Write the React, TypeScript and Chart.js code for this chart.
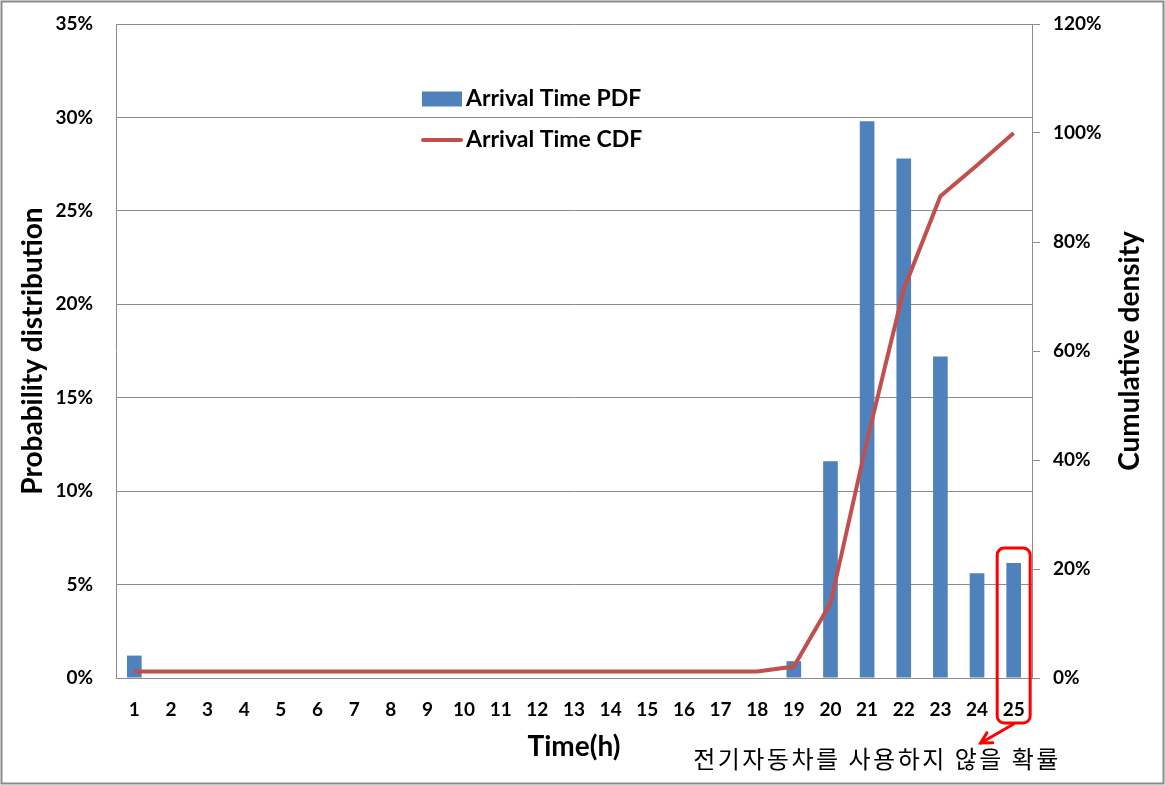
import React, { useEffect, useRef } from 'react';
import { Chart, registerables } from 'chart.js';

Chart.register(...registerables);

const hours = ['1', '2', '3', '4', '5', '6', '7', '8', '9', '10', '11', '12', '13', '14', '15', '16', '17', '18', '19', '20', '21', '22', '23', '24', '25'];
const pdfValues = [1.2, 0, 0, 0, 0, 0, 0, 0, 0, 0, 0, 0, 0, 0, 0, 0, 0, 0, 0.9, 11.6, 29.8, 27.8, 17.2, 5.6, 6.15];
const cdfValues = [1.2, 1.2, 1.2, 1.2, 1.2, 1.2, 1.2, 1.2, 1.2, 1.2, 1.2, 1.2, 1.2, 1.2, 1.2, 1.2, 1.2, 1.2, 2.1, 13.7, 43.6, 71.3, 88.4, 94.1, 100];
const pdfLabel = 'Arrival Time PDF';
const cdfLabel = 'Arrival Time CDF';
const xTitle = 'Time(h)';
const leftTitle = 'Probability distribution';
const rightTitle = 'Cumulative density';
const noteText = '전기자동차를 사용하지 않을 확률';

const FONT = 'Lato, "Open Sans", "DejaVu Sans", sans-serif';
const GRID = '#8c8c8c';
const BLUE = '#4F81BD';
const RED = '#C0504D';

const decorPlugin = {
  id: 'decor',
  afterDraw(chart: any) {
    const { ctx, chartArea } = chart;
    const xs = chart.scales.x;
    const ys = chart.scales.y;
    ctx.save();
    // outer frame
    ctx.strokeStyle = '#8a8a8a';
    ctx.lineWidth = 2;
    ctx.strokeRect(1.5, 1.5, chart.width - 3, chart.height - 3);

    // legend
    const lx = chartArea.left + 306;
    const ly1 = chartArea.top + 75;
    const ly2 = chartArea.top + 116;
    ctx.fillStyle = BLUE;
    ctx.fillRect(lx, ly1 - 7.5, 40, 15);
    ctx.strokeStyle = RED;
    ctx.lineWidth = 4;
    ctx.lineCap = 'round';
    ctx.beginPath();
    ctx.moveTo(lx + 1, ly2);
    ctx.lineTo(lx + 39, ly2);
    ctx.stroke();
    ctx.fillStyle = '#000';
    ctx.font = `bold 23px ${FONT}`;
    ctx.textAlign = 'left';
    ctx.textBaseline = 'middle';
    ctx.fillText(pdfLabel, lx + 44, ly1);
    ctx.fillText(cdfLabel, lx + 44, ly2);

    // axis titles
    const midY = (chartArea.top + chartArea.bottom) / 2;
    ctx.font = `bold 28px ${FONT}`;
    ctx.textAlign = 'center';
    ctx.textBaseline = 'middle';
    ctx.save();
    ctx.translate(33, midY);
    ctx.rotate(-Math.PI / 2);
    ctx.fillText(leftTitle, 0, 0);
    ctx.restore();
    ctx.save();
    ctx.translate(1130, midY);
    ctx.rotate(-Math.PI / 2);
    ctx.fillText(rightTitle, 0, 0);
    ctx.restore();
    ctx.fillText(xTitle, (chartArea.left + chartArea.right) / 2, 747);

    // annotation box around last category
    const last = hours.length - 1;
    const cx = xs.getPixelForValue(last);
    const top = ys.getPixelForValue(pdfValues[last]) - 15;
    const bottom = chartArea.bottom + 45;
    ctx.strokeStyle = '#FF0000';
    ctx.lineWidth = 3;
    ctx.beginPath();
    (ctx as any).roundRect(cx - 16.5, top, 33, bottom - top, 7);
    ctx.stroke();
    // arrow
    const sx = cx, sy = bottom + 1;
    const ex = cx - 33, ey = bottom + 20;
    ctx.beginPath();
    ctx.moveTo(sx, sy);
    ctx.lineTo(ex, ey);
    ctx.stroke();
    const ang = Math.atan2(ey - sy, ex - sx);
    const hl = 12;
    ctx.beginPath();
    ctx.moveTo(ex - hl * Math.cos(ang - 0.5), ey - hl * Math.sin(ang - 0.5));
    ctx.lineTo(ex, ey);
    ctx.lineTo(ex - hl * Math.cos(ang + 0.5), ey - hl * Math.sin(ang + 0.5));
    ctx.stroke();

    // note text
    ctx.fillStyle = '#000';
    ctx.font = `24px "Noto Sans CJK KR", sans-serif`;
    (ctx as any).letterSpacing = '2.5px';
    ctx.textAlign = 'center';
    ctx.textBaseline = 'middle';
    ctx.fillText(noteText, 877, 759);
    (ctx as any).letterSpacing = '0px';
    ctx.restore();
  },
};

export default function App() {
  const ref = useRef<HTMLCanvasElement | null>(null);
  useEffect(() => {
    document.body.style.margin = '0';
    const canvas = ref.current;
    if (!canvas) return;
    const tickFont = { family: FONT, size: 19, weight: 'bold' as const };
    const chart = new Chart(canvas, {
      type: 'bar',
      data: {
        labels: hours,
        datasets: [
          {
            type: 'line',
            label: cdfLabel,
            data: cdfValues,
            yAxisID: 'y1',
            borderColor: RED,
            backgroundColor: RED,
            borderWidth: 4,
            pointRadius: 0,
            tension: 0,
            order: 1,
          } as any,
          {
            type: 'bar',
            label: pdfLabel,
            data: pdfValues,
            yAxisID: 'y',
            backgroundColor: BLUE,
            borderWidth: 0,
            barPercentage: 0.4,
            categoryPercentage: 1,
            order: 2,
          },
        ],
      },
      options: {
        responsive: false,
        animation: false,
        devicePixelRatio: 1,
        layout: { padding: { top: 24, left: 0, right: 0, bottom: 0 } },
        plugins: { legend: { display: false }, tooltip: { enabled: false } },
        scales: {
          x: {
            grid: { display: false, drawTicks: false },
            border: { display: true, color: GRID, width: 1 },
            ticks: { font: tickFont, color: '#000', padding: 20, maxRotation: 0, autoSkip: false },
            afterFit: (s: any) => { s.height = 107; s.paddingLeft = 0; s.paddingRight = 0; },
          },
          y: {
            position: 'left',
            min: 0,
            max: 35,
            ticks: { stepSize: 5, callback: (v: any) => `${v}%`, padding: 23, font: tickFont, color: '#000' },
            grid: { color: GRID, drawTicks: false },
            border: { display: true, color: GRID },
            afterFit: (s: any) => { s.width = 116; s.paddingTop = 0; s.paddingBottom = 0; },
          },
          y1: {
            position: 'right',
            min: 0,
            max: 120,
            ticks: { stepSize: 20, callback: (v: any) => `${v}%`, padding: 13, font: tickFont, color: '#000' },
            grid: { drawOnChartArea: false, drawTicks: true, tickLength: 8, color: GRID },
            border: { display: true, color: GRID },
            afterFit: (s: any) => { s.width = 133; s.paddingTop = 0; s.paddingBottom = 0; },
          },
        },
      } as any,
      plugins: [decorPlugin],
    });
    return () => chart.destroy();
  }, []);
  return (
    <div style={{ width: 1165, height: 785, background: '#fff' }}>
      <canvas ref={ref} width={1165} height={785} style={{ display: 'block' }} />
    </div>
  );
}
